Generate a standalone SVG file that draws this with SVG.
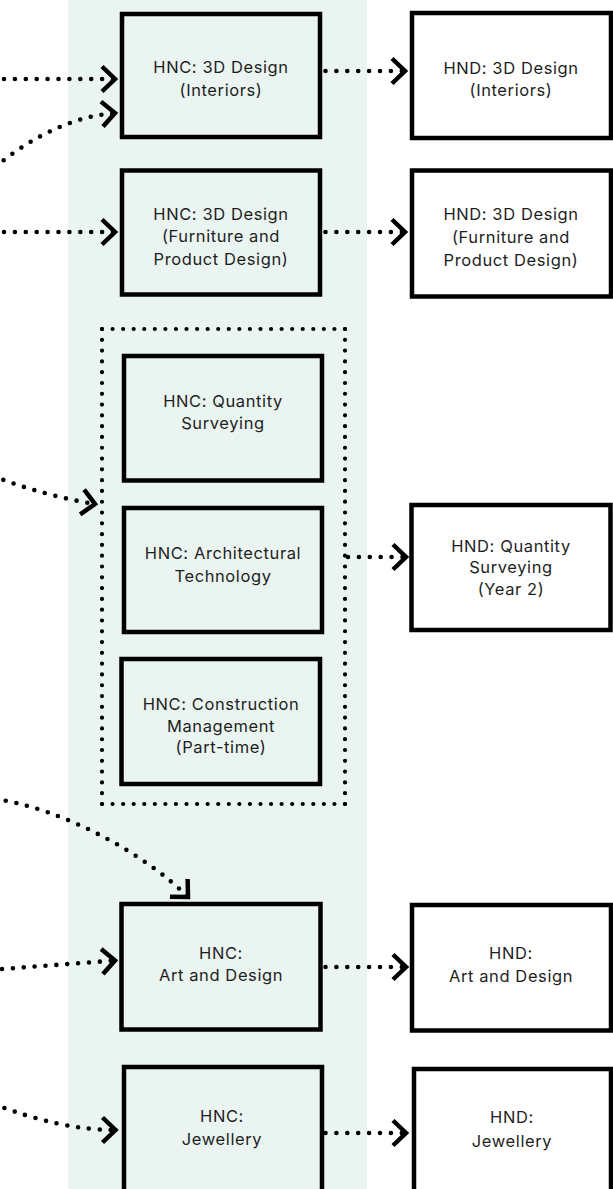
<svg xmlns="http://www.w3.org/2000/svg" width="613" height="1189" viewBox="0 0 613 1189">
<defs>
<style>
.bg{fill:#eaf4f0}
.box{stroke:#000;stroke-width:4.5;fill:#eaf4f0}
.boxw{stroke:#000;stroke-width:4.5;fill:#fff}
.lbl{font-family:Inter,"Liberation Sans",sans-serif;font-size:16.5px;letter-spacing:0.6px;fill:#1e1e1e;text-anchor:middle}
.con{fill:none;stroke:#000;stroke-width:4.6;stroke-linecap:round;stroke-dasharray:0 10.9;marker-end:url(#chev)}
.grpH{fill:none;stroke:#000;stroke-width:4.2;stroke-linecap:round;stroke-dasharray:0 10.565}
.grpV{fill:none;stroke:#000;stroke-width:4.2;stroke-linecap:round;stroke-dasharray:0 10.795}
</style>
<marker id="chev" markerUnits="userSpaceOnUse" orient="auto" refX="0" refY="0" markerWidth="40" markerHeight="40" viewBox="-20 -20 40 40" overflow="visible">
<path d="M-13,-12.5 L0,0 L-13,12.5" fill="none" stroke="#000" stroke-width="4.5" stroke-linejoin="miter"/>
</marker>
</defs>
<rect class="bg" x="68" y="0" width="299" height="1189"/>

<g id="group-construction">
<line class="grpH" x1="102" y1="329" x2="345" y2="329"/>
<line class="grpV" x1="345" y1="329" x2="345" y2="804"/>
<line class="grpH" x1="345" y1="804" x2="102" y2="804"/>
<line class="grpV" x1="102" y1="804" x2="102" y2="329"/>
</g>

<g id="hnc-interiors">
<rect class="box" x="122" y="14" width="198" height="123"/>
<text class="lbl" x="221" y="73.3">HNC: 3D Design</text>
<text class="lbl" x="221" y="96">(Interiors)</text>
</g>
<g id="hnc-furniture">
<rect class="box" x="122" y="170.5" width="198" height="124"/>
<text class="lbl" x="221" y="219.5">HNC: 3D Design</text>
<text class="lbl" x="221" y="242">(Furniture and</text>
<text class="lbl" x="221" y="265">Product Design)</text>
</g>
<g id="hnd-interiors">
<rect class="boxw" x="412" y="13" width="199" height="125"/>
<text class="lbl" x="511" y="73.5">HND: 3D Design</text>
<text class="lbl" x="511" y="96">(Interiors)</text>
</g>
<g id="hnd-furniture">
<rect class="boxw" x="412" y="170.5" width="199" height="126"/>
<text class="lbl" x="511" y="220">HND: 3D Design</text>
<text class="lbl" x="511" y="242.5">(Furniture and</text>
<text class="lbl" x="511" y="265.5">Product Design)</text>
</g>
<g id="hnc-quantity">
<rect class="box" x="124" y="356" width="198" height="124.5"/>
<text class="lbl" x="223" y="406.7">HNC: Quantity</text>
<text class="lbl" x="223" y="429">Surveying</text>
</g>
<g id="hnc-architectural">
<rect class="box" x="124" y="508" width="198" height="124"/>
<text class="lbl" x="223" y="559.3">HNC: Architectural</text>
<text class="lbl" x="223" y="581.7">Technology</text>
</g>
<g id="hnc-construction">
<rect class="box" x="121.5" y="659" width="198.5" height="125"/>
<text class="lbl" x="221" y="710">HNC: Construction</text>
<text class="lbl" x="221" y="731.7">Management</text>
<text class="lbl" x="221" y="753.3">(Part-time)</text>
</g>
<g id="hnd-quantity">
<rect class="boxw" x="411.5" y="505" width="199" height="125"/>
<text class="lbl" x="511" y="551.7">HND: Quantity</text>
<text class="lbl" x="511" y="573.3">Surveying</text>
<text class="lbl" x="511" y="595">(Year 2)</text>
</g>
<g id="hnc-art">
<rect class="box" x="121.5" y="904" width="199" height="125.5"/>
<text class="lbl" x="221" y="959.3">HNC:</text>
<text class="lbl" x="221" y="981">Art and Design</text>
</g>
<g id="hnd-art">
<rect class="boxw" x="412" y="905" width="199" height="125.5"/>
<text class="lbl" x="511" y="959">HND:</text>
<text class="lbl" x="511" y="981.7">Art and Design</text>
</g>
<g id="hnc-jewellery">
<rect class="box" x="124" y="1067" width="198" height="140"/>
<text class="lbl" x="222" y="1122.3">HNC:</text>
<text class="lbl" x="222" y="1145">Jewellery</text>
</g>
<g id="hnd-jewellery">
<rect class="boxw" x="414" y="1069" width="197" height="140"/>
<text class="lbl" x="512" y="1123.3">HND:</text>
<text class="lbl" x="512" y="1146.7">Jewellery</text>
</g>

<g id="connectors">
<path class="con" d="M4,79 H115"/>
<path class="con" d="M-5,167 Q55,118 115,113"/>
<path class="con" d="M4,232 H115"/>
<path class="con" d="M325.5,71 H405"/>
<path class="con" d="M325.5,232 H405"/>
<path class="con" d="M-7,476 Q45,496 95,504"/>
<path class="con" d="M348,557 H406"/>
<path class="con" d="M-5,799 C60,808 143,852 188,897"/>
<path class="con" d="M2,969 L115,960.5"/>
<path class="con" d="M-6,1104 Q60,1130 115.5,1130"/>
<path class="con" d="M325.5,967 H406"/>
<path class="con" d="M325.5,1133 H406"/>
</g>
</svg>
